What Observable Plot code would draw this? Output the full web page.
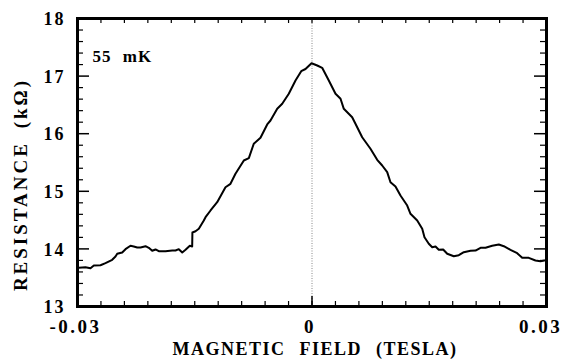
<!DOCTYPE html>
<html><head>
<meta charset="utf-8">
<script src="https://cdn.jsdelivr.net/npm/d3@7"></script>
<script src="https://cdn.jsdelivr.net/npm/@observablehq/plot@0.6"></script>
<style>
body{margin:0;background:#fff}
</style>
</head><body><div id="chart"></div>
<script>
// Magnetic field (T)
const fieldT = [-0.02983,-0.02898,-0.02834,-0.02791,-0.02706,-0.02642,-0.02556,-0.02514,-0.02492,-0.02428,-0.02386,-0.02322,-0.02280,-0.02236,-0.02194,-0.02130,-0.02088,-0.02044,-0.02002,-0.01960,-0.01874,-0.01788,-0.01746,-0.01704,-0.01660,-0.01618,-0.01563,-0.01533,-0.01530,-0.01490,-0.01448,-0.01384,-0.01362,-0.01298,-0.01213,-0.01107,-0.01043,-0.00979,-0.00872,-0.00808,-0.00745,-0.00659,-0.00573,-0.00531,-0.00445,-0.00381,-0.00297,-0.00211,-0.00138,-0.00083,-0.00006,0.00067,0.00130,0.00215,0.00301,0.00365,0.00407,0.00514,0.00556,0.00642,0.00748,0.00834,0.00898,0.00962,0.01004,0.01068,0.01132,0.01218,0.01260,0.01346,0.01410,0.01439,0.01494,0.01538,0.01580,0.01622,0.01678,0.01730,0.01814,0.01878,0.01942,0.02028,0.02092,0.02156,0.02220,0.02305,0.02390,0.02454,0.02539,0.02625,0.02689,0.02773,0.02859,0.02923,0.02974];
// Resistance (kΩ)
const resistanceKOhm = [13.672,13.682,13.665,13.712,13.717,13.752,13.811,13.868,13.915,13.938,13.995,14.054,14.042,14.024,14.024,14.047,14.019,13.967,13.990,13.960,13.960,13.972,13.972,13.995,13.938,13.984,14.054,14.042,14.285,14.307,14.349,14.493,14.550,14.667,14.811,15.071,15.130,15.304,15.535,15.575,15.825,15.929,16.160,16.229,16.432,16.519,16.693,16.924,17.085,17.123,17.224,17.184,17.144,16.924,16.693,16.606,16.432,16.286,16.172,15.939,15.738,15.547,15.448,15.332,15.158,15.083,14.927,14.753,14.609,14.493,14.349,14.203,14.089,14.029,14.042,13.984,13.990,13.915,13.873,13.891,13.943,13.967,13.972,14.019,14.019,14.054,14.076,14.047,13.984,13.925,13.845,13.845,13.799,13.786,13.799];

const xTickValues = [-0.03, 0, 0.03];
const xTickLabels = ["-0.03", "0", "0.03"];
const yTickValues = [13, 14, 15, 16, 17, 18];
const yTickLabels = ["13", "14", "15", "16", "17", "18"];
const xMinorTicks = d3.range(-9, 10).map(i => i * 0.003);
const yMinorTicks = d3.range(66, 90).map(i => i / 5).filter(v => !Number.isInteger(v));
const yMajorInner = [14, 15, 16, 17];
const annotation = "55 mK";
const xLabel = "MAGNETIC FIELD (TESLA)";
const yLabel = "RESISTANCE (kΩ)";

const data = fieldT.map((x, i) => ({x, y: resistanceKOhm[i]}));

const W = 566, H = 362;
const mL = 77, mR = 20, mT = 18, mB = 56;
const iw = W - mL - mR, ih = H - mT - mB;
const font = "'Liberation Serif', 'Times New Roman', serif";

const chart = Plot.plot({
  width: W, height: H,
  marginLeft: mL, marginRight: mR, marginTop: mT, marginBottom: mB,
  style: {fontFamily: font, background: "#fff", overflow: "visible"},
  x: {domain: [-0.03, 0.03]},
  y: {domain: [13, 18]},
  marks: [
    Plot.ruleX([0], {stroke: "#888", strokeWidth: 1, strokeDasharray: "1,1.5"}),
    // inward ticks
    Plot.tickX(xMinorTicks, {x: d => d, insetTop: ih - 5, stroke: "#000", strokeWidth: 1.2}),
    Plot.tickX(xMinorTicks, {x: d => d, insetBottom: ih - 5, stroke: "#000", strokeWidth: 1.2}),
    Plot.tickX([0], {x: d => d, insetTop: ih - 10, stroke: "#000", strokeWidth: 1.5}),
    Plot.tickY(yMinorTicks, {y: d => d, insetRight: iw - 6, stroke: "#000", strokeWidth: 1.2}),
    Plot.tickY(yMinorTicks, {y: d => d, insetLeft: iw - 6, stroke: "#000", strokeWidth: 1.2}),
    Plot.tickY(yMajorInner, {y: d => d, insetRight: iw - 12, stroke: "#000", strokeWidth: 1.5}),
    Plot.tickY(yMajorInner, {y: d => d, insetLeft: iw - 12, stroke: "#000", strokeWidth: 1.5}),
    Plot.line(data, {x: "x", y: "y", stroke: "#000", strokeWidth: 2, curve: "linear"}),
    Plot.frame({stroke: "#000", strokeWidth: 3}),
    Plot.axisY(yTickValues, {tickSize: 0, tickPadding: 12, tickFormat: (d, i) => yTickLabels[i], fontSize: 18, fontWeight: "bold", dy: 1, label: null}),
    Plot.axisX(xTickValues.slice(0, 2), {tickSize: 0, tickPadding: 13, tickFormat: (d, i) => xTickLabels[i], fontSize: 19, fontWeight: "bold", label: null, dx: -2}),
    Plot.axisX(xTickValues.slice(2), {tickSize: 0, tickPadding: 13, tickFormat: () => xTickLabels[2], fontSize: 19, fontWeight: "bold", label: null, dx: -6}),
    Plot.text([annotation], {text: d => d, frameAnchor: "top-left", dx: 15, dy: 31, textAnchor: "start", fontSize: 17, fontWeight: "bold", fill: "#000"}),
    Plot.text([xLabel], {text: d => d, frameAnchor: "bottom", dx: 3, dy: 48, textAnchor: "middle", fontSize: 18, fontWeight: "bold", fill: "#000"}),
    Plot.text([yLabel], {text: d => d, frameAnchor: "left", dx: -57, dy: 22, rotate: -90, textAnchor: "middle", fontSize: 19, fontWeight: "bold", fill: "#000"})
  ]
});
d3.select(chart).selectAll("text").each(function() {
  const t = this.textContent;
  const s = this.style;
  if (t === xLabel) { s.letterSpacing = "1.5px"; s.wordSpacing = "8px"; }
  else if (t === yLabel) { s.letterSpacing = "3px"; s.wordSpacing = "5px"; }
  else if (t === annotation) { s.letterSpacing = "1px"; s.wordSpacing = "6px"; }
  else if (xTickLabels.includes(t)) { s.letterSpacing = "2.5px"; }
  else if (yTickLabels.includes(t)) { s.letterSpacing = "2px"; }
});
document.getElementById("chart").appendChild(chart);
</script>
</body></html>
